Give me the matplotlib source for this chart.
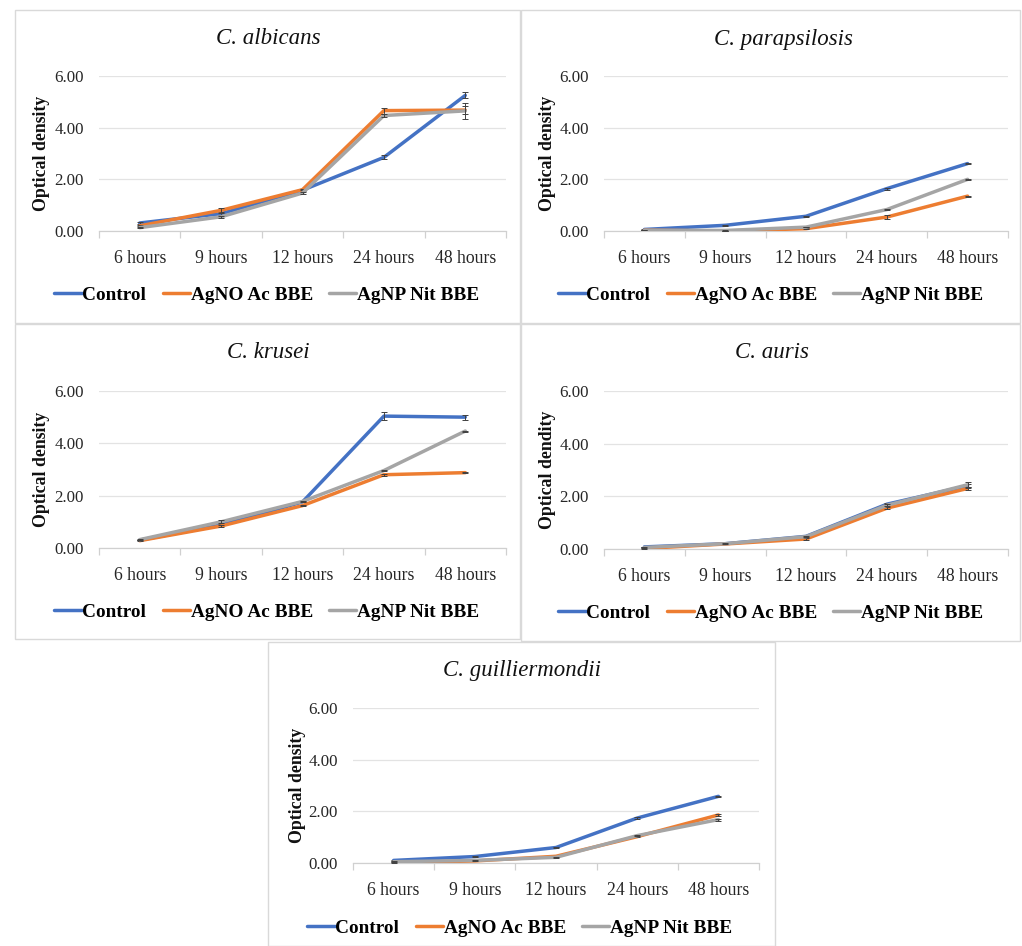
import matplotlib
matplotlib.use('Agg')
import matplotlib.pyplot as plt
from matplotlib.patches import Rectangle
from matplotlib.ticker import FixedLocator, FormatStrFormatter

# categories and series names
hours = ['6 hours', '9 hours', '12 hours', '24 hours', '48 hours']
series_names = ['Control', 'AgNO Ac BBE', 'AgNP Nit BBE']
colors = ['#4472C4', '#ED7D31', '#A5A5A5']

# C. albicans
albicans_control = [0.31, 0.67, 1.58, 2.85, 5.25]
albicans_agno = [0.20, 0.80, 1.60, 4.66, 4.68]
albicans_agnp = [0.13, 0.55, 1.47, 4.47, 4.65]
albicans_control_err = [0.02, 0.05, 0.03, 0.08, 0.12]
albicans_agno_err = [0.02, 0.10, 0.03, 0.12, 0.15]
albicans_agnp_err = [0.02, 0.04, 0.03, 0.05, 0.30]

# C. parapsilosis
parap_control = [0.06, 0.22, 0.57, 1.64, 2.61]
parap_agno = [0.03, 0.00, 0.09, 0.54, 1.35]
parap_agnp = [0.03, 0.02, 0.15, 0.83, 2.00]
parap_control_err = [0.01, 0.01, 0.02, 0.04, 0.02]
parap_agno_err = [0.01, 0.01, 0.01, 0.06, 0.02]
parap_agnp_err = [0.01, 0.01, 0.01, 0.03, 0.03]

# C. krusei
krusei_control = [0.30, 0.88, 1.76, 5.04, 5.00]
krusei_agno = [0.28, 0.84, 1.62, 2.80, 2.88]
krusei_agnp = [0.32, 1.00, 1.78, 2.96, 4.47]
krusei_control_err = [0.01, 0.03, 0.02, 0.16, 0.10]
krusei_agno_err = [0.01, 0.02, 0.02, 0.03, 0.02]
krusei_agnp_err = [0.01, 0.06, 0.02, 0.03, 0.02]

# C. auris
auris_control = [0.08, 0.20, 0.48, 1.70, 2.40]
auris_agno = [0.02, 0.19, 0.38, 1.55, 2.30]
auris_agnp = [0.06, 0.20, 0.47, 1.66, 2.44]
auris_control_err = [0.01, 0.01, 0.02, 0.03, 0.05]
auris_agno_err = [0.01, 0.01, 0.02, 0.03, 0.06]
auris_agnp_err = [0.01, 0.01, 0.02, 0.03, 0.12]

# C. guilliermondii
guill_control = [0.10, 0.25, 0.60, 1.74, 2.58]
guill_agno = [0.01, 0.08, 0.26, 1.02, 1.86]
guill_agnp = [0.05, 0.10, 0.22, 1.06, 1.68]
guill_control_err = [0.01, 0.01, 0.02, 0.05, 0.02]
guill_agno_err = [0.01, 0.01, 0.02, 0.03, 0.04]
guill_agnp_err = [0.01, 0.01, 0.02, 0.03, 0.04]

W, H = 1022, 946
plt.rcParams['font.family'] = ['Liberation Serif', 'DejaVu Serif']
fig = plt.figure(figsize=(W / 100, H / 100), dpi=100)
fig.patch.set_facecolor('white')

def fx(x):
    return x / W

def fy(y):
    return 1 - y / H

# title, ylabel, axes box (l, t, r, b), frame box, title pos, ylabel x, legend pos, data
panels = [
    ('C. albicans', 'Optical density', (99, 76, 506, 231), (15, 10, 520, 323),
     (268, 39), 42, (267, 295),
     [albicans_control, albicans_agno, albicans_agnp],
     [albicans_control_err, albicans_agno_err, albicans_agnp_err]),
    ('C. parapsilosis', 'Optical density', (604, 76, 1008, 231), (521, 10, 1020, 323),
     (783, 39), 548, (771, 295),
     [parap_control, parap_agno, parap_agnp],
     [parap_control_err, parap_agno_err, parap_agnp_err]),
    ('C. krusei', 'Optical density', (99, 391, 506, 548), (15, 324, 520, 639),
     (268, 353), 42, (267, 612),
     [krusei_control, krusei_agno, krusei_agnp],
     [krusei_control_err, krusei_agno_err, krusei_agnp_err]),
    ('C. auris', 'Optical dendity', (604, 391, 1008, 549), (521, 324, 1020, 641),
     (772, 353), 548, (771, 613),
     [auris_control, auris_agno, auris_agnp],
     [auris_control_err, auris_agno_err, auris_agnp_err]),
    ('C. guilliermondii', 'Optical density', (353, 708, 759, 863), (268, 642, 775, 946),
     (522, 670), 297, (520, 928),
     [guill_control, guill_agno, guill_agnp],
     [guill_control_err, guill_agno_err, guill_agnp_err]),
]

for title, ylabel, box, frame, tpos, ylx, lpos, data, errs in panels:
    # panel frame
    l, t, r, b = frame
    fig.patches.append(Rectangle((fx(l), fy(b)), fx(r - l), (b - t) / H,
                                 transform=fig.transFigure, fill=False,
                                 edgecolor='#D9D9D9', linewidth=1.0))
    l, t, r, b = box
    ax = fig.add_axes([fx(l), fy(b), fx(r - l), (b - t) / H])
    x = range(len(hours))
    for vals, err, c, name in zip(data, errs, colors, series_names):
        ax.plot(x, vals, color=c, linewidth=2.5, label=name, solid_capstyle='round')
        ax.errorbar(x, vals, yerr=err, fmt='none', ecolor='#404040',
                    elinewidth=0.7, capsize=2.0, capthick=0.7)
    ax.set_xlim(-0.5, 4.5)
    ax.set_ylim(0, 6)
    ax.set_yticks([0, 2, 4, 6])
    ax.yaxis.set_major_formatter(FormatStrFormatter('%.2f'))
    ax.set_xticks(list(x))
    ax.set_xticklabels(hours)
    ax.xaxis.set_minor_locator(FixedLocator([-0.5, 0.5, 1.5, 2.5, 3.5, 4.5]))
    ax.tick_params(axis='x', which='major', length=0, pad=14, labelsize=12.7,
                   labelcolor='#262626')
    ax.tick_params(axis='x', which='minor', length=5, color='#D0D0D0', width=0.9)
    ax.tick_params(axis='y', length=0, pad=11, labelsize=12.2, labelcolor='#262626')
    ax.grid(axis='y', color='#E3E3E3', linewidth=0.9)
    ax.set_axisbelow(True)
    for s in ['top', 'right', 'left']:
        ax.spines[s].set_visible(False)
    ax.spines['bottom'].set_color('#D0D0D0')
    ax.spines['bottom'].set_linewidth(0.9)
    ax.spines['bottom'].set_zorder(0.5)

    fig.text(fx(tpos[0]), fy(tpos[1]), title, ha='center', va='center',
             fontsize=16.5, style='italic', color='#111111')
    fig.text(fx(ylx), fy((t + b) / 2), ylabel, ha='center', va='center',
             rotation=90, fontsize=12.8, fontweight='bold', color='#111111')
    ax.legend(loc='center', bbox_to_anchor=(fx(lpos[0]), fy(lpos[1])),
              bbox_transform=fig.transFigure, ncol=3, frameon=False,
              handlelength=1.4, handletextpad=0.05, columnspacing=0.85,
              prop={'size': 13.9, 'weight': 'bold'})

fig.savefig('out.png', dpi=100, facecolor='white')
